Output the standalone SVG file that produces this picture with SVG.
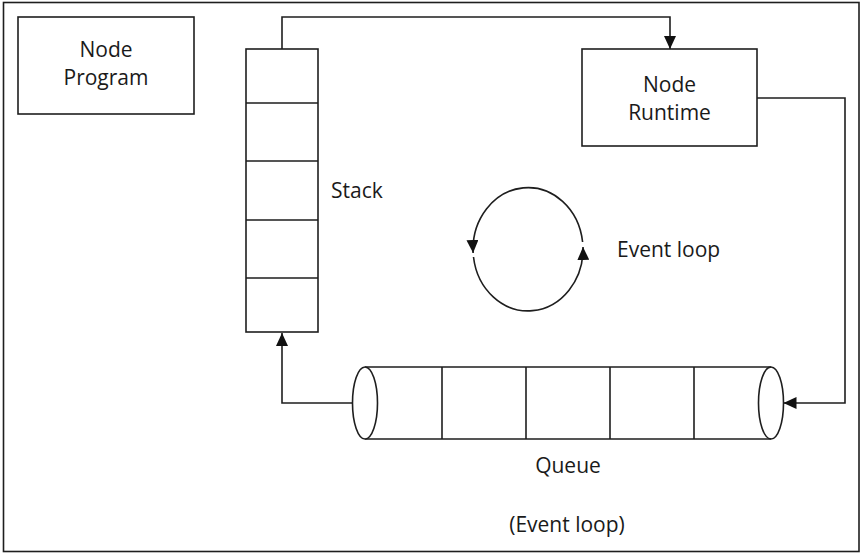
<svg xmlns="http://www.w3.org/2000/svg" width="862" height="554" viewBox="0 0 862 554">
<style>
.ln{fill:none;stroke:#1e1e1e;stroke-width:1.6}
.bx{fill:#fff;stroke:#1e1e1e;stroke-width:1.6}
.tx{font-family:"Open Sans","Liberation Sans",sans-serif;font-size:21px;fill:#1a1a1a}
.c{text-anchor:middle}
</style>
<defs>
<marker id="ar" markerUnits="userSpaceOnUse" markerWidth="13" markerHeight="12" viewBox="0 0 13 12" refX="13" refY="6" orient="auto">
<path d="M0,0 L13,6 L0,12 z" fill="#111"/>
</marker>
</defs>
<rect x="0" y="0" width="862" height="554" fill="#fff"/>
<rect id="frame" x="3.5" y="2.5" width="855.5" height="549" class="ln"/>
<g id="connectors">
<path class="ln" d="M282,49 V17 H670 V49" marker-end="url(#ar)"/>
<path class="ln" d="M757,98 H845 V403 H783.5" marker-end="url(#ar)"/>
<path class="ln" d="M352.5,403 H282 V333" marker-end="url(#ar)"/>
<path class="ln" d="M582.6,242 A55 62 0 0 0 473.1,253" marker-end="url(#ar)"/>
<path class="ln" d="M473.5,257 A55 62 0 0 0 583,247" marker-end="url(#ar)"/>
</g>
<g id="node-program">
<rect class="bx" x="18" y="17" width="176" height="97"/>
<text class="tx c" x="106" y="57">Node</text>
<text class="tx c" x="106" y="85">Program</text>
</g>
<g id="node-runtime">
<rect class="bx" x="582" y="49" width="175" height="97"/>
<text class="tx c" x="669.5" y="92">Node</text>
<text class="tx c" x="669.5" y="120">Runtime</text>
</g>
<g id="stack">
<rect class="bx" x="246" y="49" width="72" height="283"/>
<path class="ln" d="M246,103 H318 M246,161 H318 M246,220 H318 M246,278 H318"/>
<text class="tx" x="331" y="198">Stack</text>
</g>
<g id="event-loop">
<text class="tx" x="617" y="257">Event loop</text>
</g>
<g id="queue">
<path class="ln" d="M365,367 H771 M365,439 H771 M442,367 V439 M526,367 V439 M610,367 V439 M694,367 V439"/>
<ellipse class="bx" cx="365" cy="403" rx="12.5" ry="36"/>
<ellipse class="ln" cx="771" cy="403" rx="12.5" ry="36"/>
<text class="tx c" x="568" y="473">Queue</text>
</g>
<g id="caption">
<text class="tx c" x="567" y="532">(Event loop)</text>
</g>
</svg>
